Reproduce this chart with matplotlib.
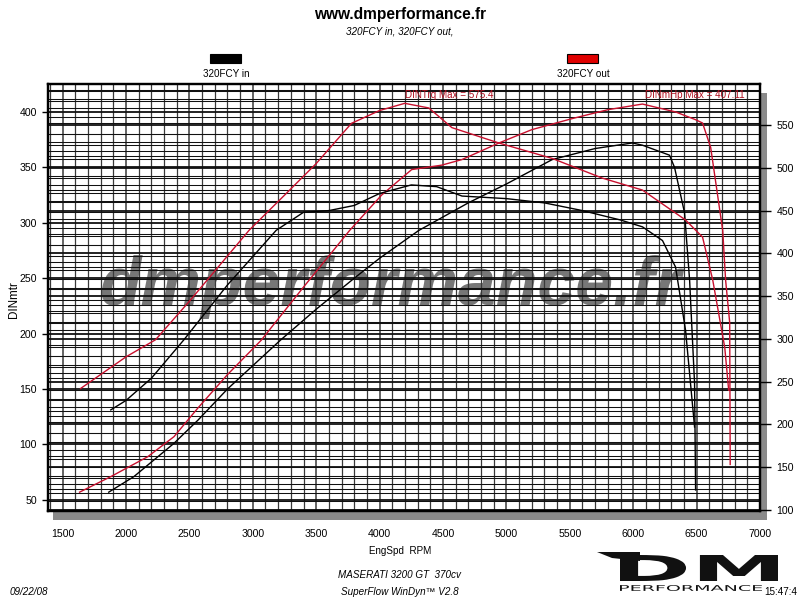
import matplotlib
matplotlib.use("Agg")
import matplotlib.pyplot as plt
from matplotlib import font_manager as fm
from matplotlib.patches import Rectangle, Polygon, PathPatch
from matplotlib.textpath import TextPath
from matplotlib.font_manager import FontProperties
from matplotlib.transforms import Affine2D, blended_transform_factory

# ---------------- data ----------------
in_trq_rpm = [1880, 2000, 2200, 2457, 2800, 3185, 3400, 3600, 3800, 4000, 4250, 4450,
              4650, 5000, 5300, 5600, 5900, 6073, 6231, 6334, 6413, 6484]
in_trq_nm = [217, 228, 254, 299, 363, 427, 448, 450, 456, 470, 480, 478,
             467, 464, 459, 450, 439, 431, 415, 384, 310, 197]

in_pwr_rpm = [1864, 2062, 2378, 2568, 2800, 3217, 3500, 3800, 4000, 4308, 4700, 5000,
              5361, 5700, 5993, 6073, 6286, 6326, 6405, 6445, 6484, 6492]
in_pwr_hp = [57, 71, 101, 122, 150, 194, 222, 250, 268, 293, 318, 335,
             357, 367, 372, 370, 361, 350, 309, 248, 155, 59]

out_trq_rpm = [1642, 2000, 2233, 2500, 2971, 3250, 3500, 3778, 4000, 4198, 4388, 4570,
               4941, 5361, 5756, 6073, 6413, 6547, 6627, 6722, 6753]
out_trq_nm = [242, 279, 299, 344, 427, 468, 505, 552, 567, 575.4, 570, 547,
              529, 511, 488, 474, 439, 419, 369, 290, 240]

out_pwr_rpm = [1634, 1880, 2172, 2378, 2568, 2800, 3066, 3400, 3763, 4016, 4253, 4490,
               4649, 4941, 5200, 5519, 5800, 6073, 6334, 6492, 6547, 6611, 6706, 6729,
               6761, 6765]
out_pwr_hp = [57, 71, 89, 107, 133, 163, 194, 242, 293, 325, 348, 352,
              357, 372, 384, 394, 402, 407.11, 400, 393, 390, 368, 293, 248,
              210, 82]

x_ticks = [1500, 2000, 2500, 3000, 3500, 4000, 4500, 5000, 5500, 6000, 6500, 7000]
left_ticks = [50, 100, 150, 200, 250, 300, 350, 400]
right_ticks = [100, 150, 200, 250, 300, 350, 400, 450, 500, 550]

series_names = ["320FCY in", "320FCY out"]
trq_max_label = "DINTrq Max = 575.4"
pwr_max_label = "DINmHp Max = 407.11"

# ---------------- fonts ----------------
names = {f.name for f in fm.fontManager.ttflist}
NARROW = "Liberation Sans Narrow" in names
if NARROW:
    FAM = ["Liberation Sans Narrow", "Liberation Sans", "DejaVu Sans"]
    k = 1.0
else:
    FAM = ["Liberation Sans", "DejaVu Sans"]
    k = 0.84
plt.rcParams["font.family"] = FAM

W, H = 800, 600
def fx(x):
    return x / W
def fy(y):
    return 1 - y / H

RED = "#c8102e"
DKRED = "#b01020"

fig = plt.figure(figsize=(8, 6), dpi=100, facecolor="white")

# shadow
fig.add_artist(Rectangle((fx(53), fy(520)), (767 - 53) / W, (520 - 93) / H,
                         transform=fig.transFigure, facecolor="#8a8a8a",
                         edgecolor="none", zorder=-1))

ax = fig.add_axes([fx(48), fy(511), (760 - 48) / W, (511 - 84) / H])
ax.set_zorder(1)
ax.set_facecolor("white")
ax2 = ax.twinx()

ax.set_xlim(1385, 7000)
ax.set_ylim(40, 425.2)
ax2.set_ylim(98.8, 598)

# grid
for r in range(1400, 7001, 100):
    ax.axvline(r, color="#3a3a3a", lw=0.9 if r % 500 else 1.1, zorder=1)
for v in range(40, 426, 10):
    ax.axhline(v, color="#111111", lw=1.3 if v % 50 == 0 else 0.75, zorder=1)
rt = blended_transform_factory(ax.transAxes, ax2.transData)
for v in range(100, 598, 10):
    ax.plot([0, 1], [v, v], transform=rt, color="#111111",
            lw=1.3 if v % 50 == 0 else 0.75, zorder=1)

# watermark
ax.text(0.48, 0.482, "dmperformance.fr", transform=ax.transAxes,
        ha="center", va="baseline", fontsize=49, fontweight="bold",
        fontstyle="italic", family=["Liberation Sans", "DejaVu Sans"],
        color="#777777", zorder=0.5)

# curves
ax.plot(in_pwr_rpm, in_pwr_hp, color="black", lw=1.0, zorder=3)
ax.plot(out_pwr_rpm, out_pwr_hp, color=RED, lw=1.0, zorder=3)
ax2.plot(in_trq_rpm, in_trq_nm, color="black", lw=1.0, zorder=3)
ax2.plot(out_trq_rpm, out_trq_nm, color=RED, lw=1.0, zorder=3)

# max annotations
bt = blended_transform_factory(ax.transData, ax.transAxes)
ax.text(out_trq_rpm[out_trq_nm.index(max(out_trq_nm))], 0.974, trq_max_label,
        transform=bt, ha="left", va="center", color=DKRED, fontsize=8.5 * k, zorder=4)
ax.text(out_pwr_rpm[out_pwr_hp.index(max(out_pwr_hp))] + 20, 0.974, pwr_max_label,
        transform=bt, ha="left", va="center", color=DKRED, fontsize=8.5 * k, zorder=4)

# ticks
ax.set_xticks(x_ticks)
ax.set_xticklabels([str(t) for t in x_ticks])
ax.tick_params(axis="x", length=0, pad=13, labelsize=9 * k)
ax.set_yticks(left_ticks)
ax.tick_params(axis="y", length=4, width=1, pad=4, labelsize=9 * k, direction="out")
ax2.set_yticks(right_ticks)
ax2.tick_params(axis="y", length=8, width=1, pad=4, labelsize=9 * k, direction="out")
for a in (ax, ax2):
    for s in a.spines.values():
        s.set_linewidth(1.6)
        s.set_color("black")

# titles and texts
fig.text(0.5, fy(14), "www.dmperformance.fr", ha="center", va="center",
         fontsize=13.3 * k, fontweight="bold")
fig.text(0.5, fy(32), "320FCY in, 320FCY out,", ha="center", va="center",
         fontsize=8.5 * k, fontstyle="italic")

# legend
for (x0, col, name) in [(210, "black", series_names[0]), (567, "#e00000", series_names[1])]:
    fig.add_artist(Rectangle((fx(x0), fy(63)), 31 / W, 9 / H, transform=fig.transFigure,
                             facecolor=col, edgecolor="black", lw=0.8))
    fig.text(fx(x0 + 16), fy(74), name, ha="center", va="center", fontsize=8.5 * k)

fig.text(fx(14), fy(300), "DINmtr", rotation=90, ha="center", va="center", fontsize=10 * k)
fig.text(0.5, fy(551), "EngSpd  RPM", ha="center", va="center", fontsize=8.5 * k)
fig.text(0.5, fy(575), "MASERATI 3200 GT  370cv", ha="center", va="center",
         fontsize=8.5 * k, fontstyle="italic")
fig.text(0.5, fy(592), "SuperFlow WinDyn\u2122 V2.8", ha="center", va="center",
         fontsize=8.5 * k, fontstyle="italic")
fig.text(fx(10), fy(592), "09/22/08", ha="left", va="center", fontsize=8.5 * k,
         fontstyle="italic")

# DM logo
def place_path(text, box, weight="bold", family="DejaVu Sans"):
    tp = TextPath((0, 0), text, size=1, prop=FontProperties(family=family, weight=weight))
    ext = tp.get_extents()
    x0, y0, x1, y1 = box  # image pixel coords (y down)
    w = (x1 - x0) / W
    h = (y1 - y0) / H
    tr = Affine2D().translate(-ext.x0, -ext.y0).scale(w / ext.width, h / ext.height) \
        .translate(fx(x0), fy(y1)) + fig.transFigure
    fig.add_artist(PathPatch(tp, transform=tr, facecolor="#111111", edgecolor="none"))

place_path("DM", (620, 555, 778, 581))
place_path("PERFORMANCE", (620, 585, 762, 591), weight="normal")
fig.add_artist(Polygon([(fx(597), fy(552)), (fx(640), fy(552)), (fx(640), fy(561)),
                        (fx(612), fy(558))], closed=True, transform=fig.transFigure,
                       facecolor="#111111", edgecolor="none"))
fig.text(fx(797), fy(592), "15:47:4", ha="right", va="center", fontsize=8.5 * k)

fig.savefig("out.png", dpi=100, facecolor="white")
